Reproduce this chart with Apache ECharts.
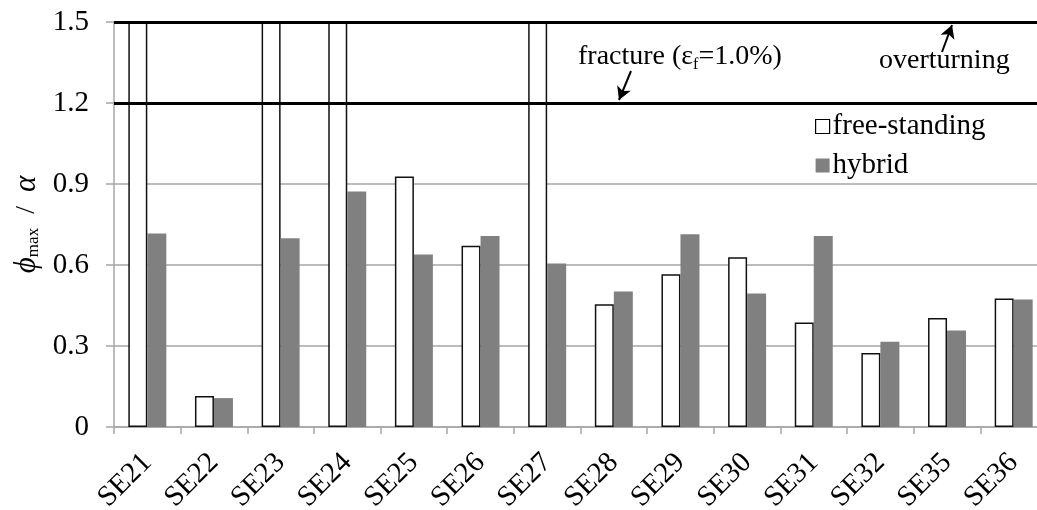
<!DOCTYPE html>
<html>
<head>
<meta charset="utf-8">
<script src="https://cdn.jsdelivr.net/npm/echarts@6/dist/echarts.min.js"></script>
<style>
  html, body { margin: 0; padding: 0; background: #fff; }
  #chart { width: 1037px; height: 510px; }
</style>
</head>
<body>
<div id="chart"></div>
<script>
// Specimens along the x axis
const categories = ['SE21', 'SE22', 'SE23', 'SE24', 'SE25', 'SE26', 'SE27',
                    'SE28', 'SE29', 'SE30', 'SE31', 'SE32', 'SE35', 'SE36'];

// Peak rotation ratio phi_max / alpha; specimens that overturned run off the top (> 1.5)
const freeStanding = [1.6, 0.115, 1.6, 1.6, 0.928, 0.671, 1.6,
                      0.455, 0.566, 0.629, 0.387, 0.274, 0.404, 0.476];
const hybrid = [0.717, 0.107, 0.699, 0.872, 0.639, 0.707, 0.606,
                0.502, 0.714, 0.494, 0.707, 0.316, 0.357, 0.472];

// Limit lines
const fractureLimit = 1.2;
const overturningLimit = 1.5;

const yTicks = [0, 0.3, 0.6, 0.9, 1.2, 1.5];

const SERIF = '"Liberation Serif", "Times New Roman", serif';
const GRID_GREY = '#a6a6a6';

const chart = echarts.init(document.getElementById('chart'), null, { renderer: 'canvas' });

const option = {
  backgroundColor: '#ffffff',
  animation: false,
  textStyle: { fontFamily: SERIF, color: '#000' },
  grid: {
    left: 114, top: 22, width: 933, height: 405,
    containLabel: false,
    outerBoundsMode: 'none'
  },
  legend: {
    orient: 'vertical',
    left: 810,
    top: 107,
    itemWidth: 14,
    itemHeight: 14,
    itemGap: 10,
    icon: 'rect',
    textStyle: { fontFamily: SERIF, fontSize: 29, color: '#000', padding: [0, 0, 0, -2] },
    data: [
      { name: 'free-standing', itemStyle: { color: '#fff', borderColor: '#000', borderWidth: 1.2 } },
      { name: 'hybrid', itemStyle: { color: '#808080', borderWidth: 0 } }
    ]
  },
  xAxis: {
    type: 'category',
    data: categories,
    axisLine: { show: true, lineStyle: { color: GRID_GREY, width: 1.5 } },
    axisTick: { show: true, alignWithLabel: false, length: 7, lineStyle: { color: GRID_GREY, width: 1.5 } },
    axisLabel: {
      rotate: 45,
      margin: 31,
      fontFamily: SERIF,
      fontSize: 29,
      color: '#000',
      interval: 0
    },
    splitLine: { show: false }
  },
  yAxis: {
    type: 'value',
    min: 0,
    max: 1.5,
    interval: 0.3,
    name: '{phi|ϕ}{sub|max}{sl|  /  }{al|α}',
    nameLocation: 'middle',
    nameRotate: 90,
    nameGap: 72,
    nameTextStyle: {
      rich: {
        phi: { fontFamily: SERIF, fontSize: 31, fontStyle: 'italic', color: '#000' },
        sub: { fontFamily: SERIF, fontSize: 17, color: '#000', verticalAlign: 'bottom', lineHeight: 30 },
        sl: { fontFamily: SERIF, fontSize: 28, color: '#000' },
        al: { fontFamily: SERIF, fontSize: 31, fontStyle: 'italic', color: '#000' }
      }
    },
    axisLine: { show: true, lineStyle: { color: GRID_GREY, width: 1.5 } },
    axisTick: { show: true, length: 8, lineStyle: { color: GRID_GREY, width: 1.5 } },
    axisLabel: {
      margin: 25,
      fontFamily: SERIF,
      fontSize: 29,
      color: '#000',
      customValues: yTicks,
      formatter: v => (v === 0 ? '0' : v.toFixed(1))
    },
    splitLine: { show: true, lineStyle: { color: GRID_GREY, width: 1.5 } }
  },
  series: [
    {
      name: 'free-standing',
      type: 'bar',
      data: freeStanding,
      barWidth: 19,
      barGap: '0%',
      clip: true,
      itemStyle: { color: '#ffffff', borderColor: '#111', borderWidth: 1.5 },
      markLine: {
        silent: true,
        symbol: ['none', 'none'],
        label: { show: false },
        lineStyle: { color: '#000', width: 3, type: 'solid' },
        data: [{ yAxis: fractureLimit }, { yAxis: overturningLimit }]
      }
    },
    {
      name: 'hybrid',
      type: 'bar',
      data: hybrid,
      barWidth: 19,
      barGap: '0%',
      clip: true,
      itemStyle: { color: '#808080' },
      markLine: {
        silent: true,
        symbol: ['none', 'arrow'],
        symbolSize: [11, 13],
        label: { show: false },
        lineStyle: { color: '#000', width: 2, type: 'solid' },
        data: [
          [{ x: 631, y: 71 }, { x: 619, y: 100 }],
          [{ x: 942, y: 52 }, { x: 952, y: 25 }]
        ]
      }
    }
  ],
  graphic: [
    {
      type: 'text',
      left: 578,
      top: 43,
      style: {
        text: '{a|fracture (ε}{s|f}{a|=1.0%)}',
        rich: {
          a: { fontFamily: SERIF, fontSize: 28, fill: '#000' },
          s: { fontFamily: SERIF, fontSize: 16, fill: '#000', verticalAlign: 'bottom', lineHeight: 31 }
        }
      }
    },
    {
      type: 'text',
      left: 879,
      top: 47,
      style: { text: 'overturning', fontFamily: SERIF, fontSize: 28, fill: '#000' }
    }
  ]
};

chart.setOption(option);
</script>
</body>
</html>
